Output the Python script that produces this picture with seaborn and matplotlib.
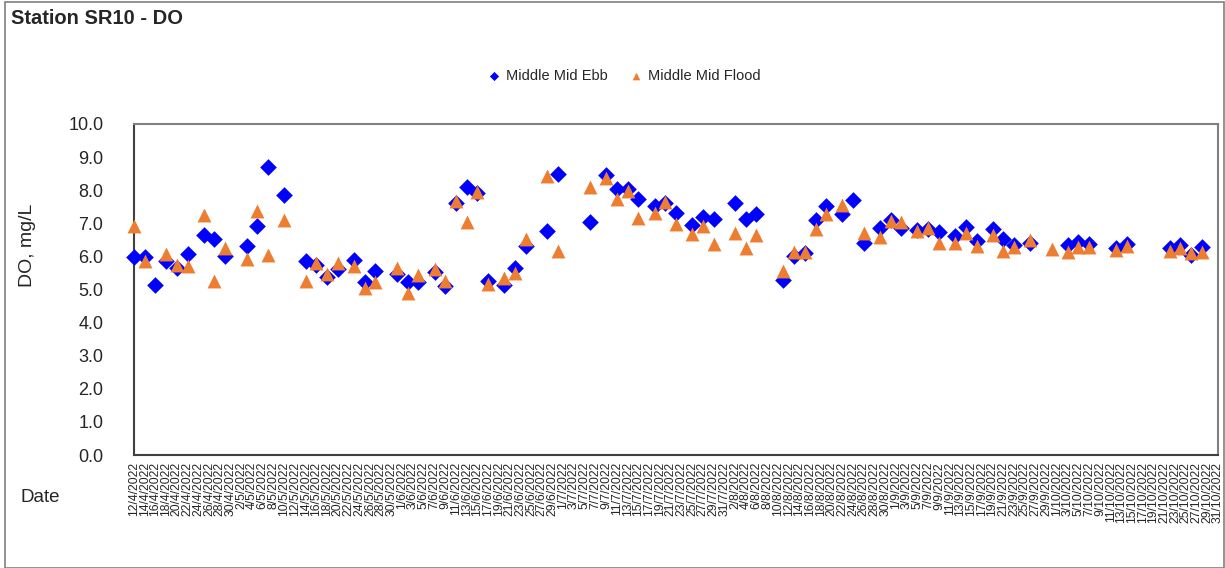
import pandas as pd
import matplotlib.pyplot as plt
import seaborn as sns
from matplotlib.patches import Rectangle

# -------------------------------
# DATA
# -------------------------------
ebb_dates = ["12/4", "14/4", "16/4", "18/4", "20/4", "22/4", "25/4", "27/4", "29/4",
             "3/5", "5/5", "7/5", "10/5", "14/5", "16/5", "18/5", "20/5", "23/5", "25/5", "27/5",
             "31/5", "2/6", "4/6", "7/6", "9/6", "11/6", "13/6", "15/6", "17/6", "20/6", "22/6",
             "24/6", "28/6", "30/6", "6/7", "9/7", "11/7", "13/7", "15/7", "18/7", "20/7", "22/7",
             "25/7", "27/7", "29/7", "2/8", "4/8", "6/8", "11/8", "13/8", "15/8", "17/8", "19/8",
             "22/8", "24/8", "26/8", "29/8", "31/8", "2/9", "5/9", "7/9", "9/9", "12/9", "14/9",
             "16/9", "19/9", "21/9", "23/9", "26/9", "3/10", "5/10", "7/10", "12/10", "14/10",
             "22/10", "24/10", "26/10", "28/10"]
ebb_do = [5.97, 5.97, 5.15, 5.87, 5.66, 6.07, 6.64, 6.53, 6.01,
          6.30, 6.93, 8.70, 7.85, 5.86, 5.74, 5.37, 5.61, 5.90, 5.22, 5.57,
          5.47, 5.24, 5.22, 5.54, 5.12, 7.60, 8.11, 7.92, 5.26, 5.15, 5.65,
          6.32, 6.78, 8.50, 7.04, 8.46, 8.04, 8.05, 7.73, 7.52, 7.60, 7.30,
          6.96, 7.20, 7.14, 7.60, 7.12, 7.28, 5.28, 6.00, 6.11, 7.09, 7.53,
          7.27, 7.71, 6.41, 6.87, 7.10, 6.85, 6.80, 6.82, 6.74, 6.63, 6.88,
          6.46, 6.83, 6.54, 6.35, 6.41, 6.34, 6.43, 6.36, 6.24, 6.37,
          6.26, 6.34, 6.04, 6.27]

flood_dates = ["12/4", "14/4", "18/4", "20/4", "22/4", "25/4", "27/4", "29/4",
               "3/5", "5/5", "7/5", "10/5", "14/5", "16/5", "18/5", "20/5", "23/5", "25/5", "27/5",
               "31/5", "2/6", "4/6", "7/6", "9/6", "11/6", "13/6", "15/6", "17/6", "20/6", "22/6",
               "24/6", "28/6", "30/6", "6/7", "9/7", "11/7", "13/7", "15/7", "18/7", "20/7", "22/7",
               "25/7", "27/7", "29/7", "2/8", "4/8", "6/8", "11/8", "13/8", "15/8", "17/8", "19/8",
               "22/8", "26/8", "29/8", "31/8", "2/9", "5/9", "7/9", "9/9", "12/9", "14/9",
               "16/9", "19/9", "21/9", "23/9", "26/9", "30/9", "3/10", "5/10", "7/10", "12/10",
               "14/10", "22/10", "24/10", "26/10", "28/10"]
flood_do = [6.92, 5.87, 6.06, 5.74, 5.72, 7.26, 5.27, 6.26,
            5.91, 7.38, 6.03, 7.10, 5.26, 5.81, 5.46, 5.79, 5.72, 5.04, 5.22,
            5.66, 4.88, 5.44, 5.62, 5.26, 7.67, 7.05, 7.95, 5.17, 5.36, 5.51,
            6.53, 8.43, 6.16, 8.11, 8.36, 7.74, 7.98, 7.17, 7.32, 7.63, 6.97,
            6.68, 6.93, 6.37, 6.71, 6.25, 6.64, 5.57, 6.14, 6.14, 6.84, 7.27,
            7.55, 6.70, 6.60, 7.08, 7.04, 6.78, 6.85, 6.40, 6.40, 6.72,
            6.31, 6.65, 6.16, 6.27, 6.50, 6.21, 6.14, 6.29, 6.29, 6.19,
            6.32, 6.17, 6.24, 6.09, 6.13]

series_names = ["Middle Mid Ebb", "Middle Mid Flood"]


def to_dates(lst):
    return pd.to_datetime([d + "/2022" for d in lst], format="%d/%m/%Y")


ebb = pd.DataFrame({"date": to_dates(ebb_dates), "DO": ebb_do})
flood = pd.DataFrame({"date": to_dates(flood_dates), "DO": flood_do})

# -------------------------------
# PLOT
# -------------------------------
sns.set_style("white")
plt.rcParams["font.family"] = ["Liberation Sans", "DejaVu Sans"]

fig = plt.figure(figsize=(12.25, 5.68), dpi=100)
ax = fig.add_axes([134 / 1225, 1 - 455 / 568, (1218 - 134) / 1225, (455 - 124) / 568])

sns.scatterplot(data=ebb, x="date", y="DO", marker="D", color="#0000FF", s=72,
                linewidth=0, label=series_names[0], ax=ax, clip_on=False, zorder=3)
sns.scatterplot(data=flood, x="date", y="DO", marker="^", color="#ED7D31", s=100,
                linewidth=0, label=series_names[1], ax=ax, clip_on=False, zorder=4)

ax.set_ylim(0, 10)
ax.set_yticks(range(11))
ax.set_yticklabels([f"{i:.1f}" for i in range(11)], fontsize=13)

start = pd.Timestamp("2022-04-12")
end = pd.Timestamp("2022-10-31")
ax.set_xlim(start, end)
ticks = pd.date_range(start, end, freq="2D")
ax.set_xticks(ticks)
ax.set_xticklabels([f"{t.day}/{t.month}/{t.year}" for t in ticks], rotation=90, fontsize=8.8)

ax.tick_params(axis="both", direction="in", length=5, width=0.8, color="#404040")
ax.tick_params(axis="x", pad=5)
ax.tick_params(axis="y", pad=22)

for side in ["top", "right"]:
    ax.spines[side].set_color("#808080")
    ax.spines[side].set_linewidth(1.5)
for side in ["left", "bottom"]:
    ax.spines[side].set_color("#404040")
    ax.spines[side].set_linewidth(1.5)

ax.set_xlabel("")
ax.set_ylabel("")
fig.text(27 / 1225, 1 - 245 / 568, "DO, mg/L", fontsize=14, rotation=90,
         va="center", ha="center")
fig.text(21 / 1225, 1 - 498 / 568, "Date", fontsize=13.5, va="center", ha="left")
fig.text(11 / 1225, 1 - 19 / 568, "Station SR10 - DO", fontsize=14.5, fontweight="bold",
         va="center", ha="left")

handles, labels = ax.get_legend_handles_labels()
ax.get_legend().remove()
fig.legend(handles, labels, loc="center", bbox_to_anchor=(620 / 1225, 1 - 76 / 568),
           ncol=2, frameon=False, fontsize=10.5, handletextpad=-0.2, columnspacing=1.0,
           markerscale=0.55)

# chart-area border
fig.patches.append(Rectangle((5 / 1225, 0), 1 - 6 / 1225, 1 - 2 / 568,
                             transform=fig.transFigure, fill=False,
                             edgecolor="#808080", linewidth=1.2))

fig.savefig("out.png", dpi=100)
